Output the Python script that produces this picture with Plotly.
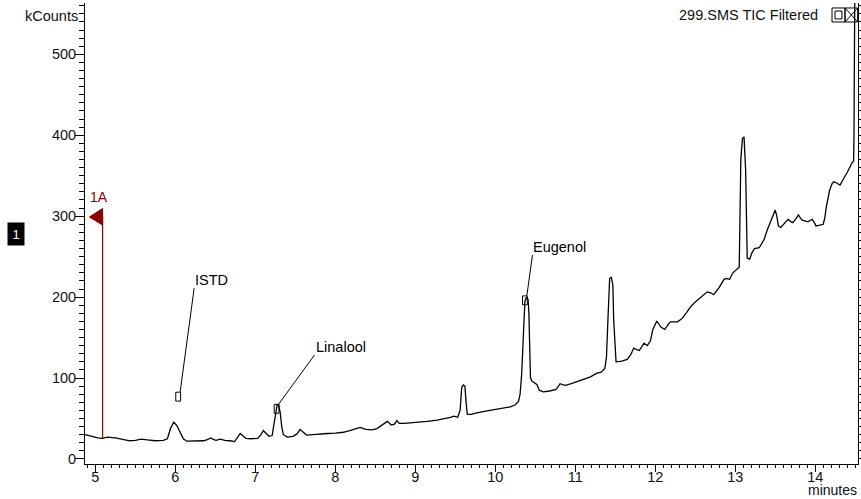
import numpy as np
import plotly.graph_objects as go

# ---------------- data ----------------
times = [4.87, 4.95, 5.03, 5.09, 5.15, 5.25, 5.35, 5.43, 5.50, 5.57, 5.65, 5.75, 5.85, 5.90,
         5.94, 5.98, 6.02, 6.06, 6.10, 6.14, 6.25, 6.35, 6.40, 6.44, 6.48, 6.51, 6.56, 6.62,
         6.68, 6.74, 6.78, 6.81, 6.84, 6.88, 6.95, 7.03, 7.07, 7.10, 7.13, 7.17, 7.21, 7.24,
         7.27, 7.29, 7.31, 7.33, 7.35, 7.40, 7.47, 7.52, 7.56, 7.60, 7.64, 7.72, 7.81, 7.90,
         8.00, 8.10, 8.18, 8.24, 8.31, 8.38, 8.46, 8.52, 8.58, 8.65, 8.70, 8.74, 8.77, 8.80,
         8.86, 8.95, 9.05, 9.15, 9.27, 9.38, 9.44, 9.48, 9.53, 9.56, 9.58, 9.60, 9.62, 9.635,
         9.65, 9.70, 9.77, 9.88, 9.98, 10.08, 10.19, 10.25, 10.29, 10.31, 10.33, 10.35, 10.37,
         10.39, 10.41, 10.42, 10.43, 10.44, 10.46, 10.49, 10.52, 10.55, 10.60, 10.68, 10.76,
         10.79, 10.81, 10.84, 10.88, 10.95, 11.02, 11.10, 11.19, 11.27, 11.32, 11.37, 11.39,
         11.41, 11.43, 11.45, 11.47, 11.48, 11.51, 11.58, 11.65, 11.70, 11.73, 11.77, 11.80,
         11.84, 11.86, 11.90, 11.94, 11.97, 12.02, 12.07, 12.12, 12.16, 12.19, 12.28, 12.34,
         12.40, 12.44, 12.50, 12.57, 12.65, 12.70, 12.73, 12.80, 12.86, 12.89, 12.93, 12.97,
         13.00, 13.05, 13.07, 13.09, 13.11, 13.13, 13.15, 13.18, 13.21, 13.24, 13.30, 13.36,
         13.40, 13.43, 13.47, 13.50, 13.52, 13.54, 13.57, 13.62, 13.66, 13.70, 13.72, 13.76,
         13.79, 13.82, 13.84, 13.88, 13.91, 13.94, 13.96, 13.99, 14.01, 14.06, 14.10, 14.12,
         14.14, 14.18, 14.21, 14.23, 14.27, 14.31, 14.34, 14.37, 14.40, 14.43, 14.46, 14.48,
         14.485, 14.49, 14.50, 14.53]
kcounts = [30, 28, 26, 25.5, 27, 26, 24, 22.5, 23, 24.5, 23.5, 22.5, 23, 25,
           38, 45.5, 41, 33, 25, 22, 22, 22.5, 24, 26, 24, 23, 24.5, 23,
           22.5, 21.5, 27, 31.5, 29, 25.5, 25, 25.5, 30, 35, 32, 28, 29, 45,
           66, 67, 58, 40, 30, 27, 28, 31, 36.5, 33, 29.5, 30, 31, 31.5,
           32, 33, 35, 37, 39, 36.5, 36, 37.5, 42, 46.5, 42, 43, 47.5, 44,
           44, 44.5, 45.5, 46.5, 48, 50, 51.5, 53, 51.5, 60, 88, 91.5, 90, 70,
           55, 55, 57, 59, 60.5, 62.5, 64.5, 67, 71, 80, 105, 150, 195,
           200, 197, 180, 130, 100, 96, 94, 92, 85, 83, 84, 86,
           90, 93, 92, 91, 93, 95.5, 98, 101.5, 106, 107, 112, 126,
           176, 223, 225, 215, 172, 120, 121, 123, 130, 137, 135, 134,
           140, 143, 140, 146, 160, 170.5, 163, 160, 166, 169.5, 169.5, 174,
           182, 188, 194, 200, 206.5, 205, 203, 212, 222, 223, 222, 230,
           233, 237, 370, 396, 398, 357, 248, 247, 255, 260, 261, 271,
           283, 291, 301.5, 307.5, 300, 288, 286, 291, 296, 293, 292, 297,
           301.5, 297, 295, 294, 293, 295, 296, 292, 288, 289, 290, 298,
           312, 332, 340, 342.5, 341, 338.5, 343, 349, 354, 361, 366, 368,
           400, 495, 650, 650]

peak_names = ["ISTD", "Linalool", "Eugenol"]
peak_times = [6.035, 7.265, 10.37]
peak_box_vals = [77, 62, 196]
label_times = [6.235, 7.74, 10.465]
label_vals = [211, 128.5, 252]

marker_label = "1A"
marker_time = 5.09
marker_top = 300

x_ticks = [5, 6, 7, 8, 9, 10, 11, 12, 13, 14]
y_ticks = [0, 100, 200, 300, 400, 500]
title_text = "299.SMS TIC Filtered"
y_unit = "kCounts"
x_unit = "minutes"
panel_id = "1"

# ---------------- figure ----------------
FONT = "Liberation Sans, Arial, sans-serif"
RED = "#8B0000"
fig = go.Figure()

fig.add_trace(go.Scatter(x=times, y=kcounts, mode="lines",
                         line=dict(color="black", width=1.3), hoverinfo="skip"))

# marker 1A
marker_base = float(np.interp(marker_time, times, kcounts))
fig.add_trace(go.Scatter(x=[marker_time, marker_time], y=[marker_base, marker_top],
                         mode="lines", line=dict(color=RED, width=1.2), hoverinfo="skip"))
fig.add_trace(go.Scatter(x=[marker_time, marker_time - 0.165, marker_time, marker_time],
                         y=[marker_top + 9.5, marker_top - 1, marker_top - 11, marker_top + 9.5],
                         mode="lines", fill="toself", fillcolor=RED,
                         line=dict(color=RED, width=1), hoverinfo="skip"))
fig.add_annotation(x=marker_time - 0.05, y=marker_top + 11, text=marker_label,
                   showarrow=False, xanchor="center", yanchor="bottom",
                   font=dict(family=FONT, size=14, color=RED))

# peak labels
bw, bh = 0.03, 5.5
for name, pt, pv, lt, lv in zip(peak_names, peak_times, peak_box_vals, label_times, label_vals):
    fig.add_shape(type="rect", x0=pt - bw, x1=pt + bw, y0=pv - bh, y1=pv + bh,
                  line=dict(color="black", width=1), fillcolor="rgba(0,0,0,0)")
    fig.add_trace(go.Scatter(x=[pt + bw * 0.8, lt], y=[pv + bh, lv], mode="lines",
                             line=dict(color="black", width=1), hoverinfo="skip"))
    fig.add_annotation(x=lt, y=lv, text=name, showarrow=False,
                       xanchor="left", yanchor="bottom", xshift=-1, yshift=-2,
                       font=dict(family=FONT, size=14.5, color="black"))

# texts around the frame
fig.add_annotation(xref="paper", yref="paper", x=-0.006, y=0.971, text=y_unit,
                   showarrow=False, xanchor="right", yanchor="middle",
                   font=dict(family=FONT, size=14.5, color="#111"))
fig.add_annotation(xref="paper", yref="paper", x=0.951, y=0.974, text=title_text,
                   showarrow=False, xanchor="right", yanchor="middle",
                   font=dict(family=FONT, size=14.5, color="#111"))
fig.add_annotation(xref="paper", yref="paper", x=1.0, y=-0.0755, text=x_unit,
                   showarrow=False, xanchor="right", yanchor="bottom", borderpad=0,
                   font=dict(family=FONT, size=14, color="#111"))
fig.add_annotation(xref="paper", yref="paper", x=-0.0893, y=0.499, text=panel_id,
                   showarrow=False, xanchor="center", yanchor="middle",
                   bgcolor="black", width=14, height=20, borderpad=1,
                   font=dict(family=FONT, size=13, color="white"))

# window icons (top right)
fig.add_shape(type="rect", xref="paper", yref="paper", x0=0.9664, x1=0.9832, y0=0.9588, y1=0.9892,
              line=dict(color="black", width=1))
fig.add_shape(type="rect", xref="paper", yref="paper", x0=0.9703, x1=0.9793, y0=0.9654, y1=0.9826,
              line=dict(color="black", width=1))
fig.add_shape(type="rect", xref="paper", yref="paper", x0=0.9832, x1=0.9995, y0=0.9588, y1=0.9892,
              line=dict(color="black", width=1))
fig.add_shape(type="line", xref="paper", yref="paper", x0=0.9832, x1=0.9995, y0=0.9588, y1=0.9892,
              line=dict(color="black", width=1))
fig.add_shape(type="line", xref="paper", yref="paper", x0=0.9832, x1=0.9995, y0=0.9892, y1=0.9588,
              line=dict(color="black", width=1))

fig.update_layout(
    width=861, height=499, autosize=False,
    margin=dict(l=85, r=3, t=3, b=35, pad=0),
    paper_bgcolor="white", plot_bgcolor="white",
    showlegend=False,
    font=dict(family=FONT, size=14.5, color="#111"),
)
fig.update_xaxes(range=[4.87, 14.535], tickvals=x_ticks, ticktext=[str(v) for v in x_ticks],
                 ticks="outside", ticklen=7, tickwidth=1, tickcolor="black",
                 minor=dict(dtick=0.1, tick0=0, ticks="outside", ticklen=3, tickcolor="black"),
                 showline=True, linecolor="black", linewidth=1,
                 showgrid=False, zeroline=False, automargin=False,
                 ticklabelstandoff=-7,
                 tickfont=dict(family=FONT, size=14.5, color="#111"))
fig.update_yaxes(range=[-6.2, 563.4], tickvals=y_ticks, ticktext=[str(v) for v in y_ticks],
                 ticks="outside", ticklen=9, tickwidth=1, tickcolor="black",
                 minor=dict(dtick=10, tick0=0, ticks="outside", ticklen=5, tickcolor="black"),
                 showline=True, linecolor="black", linewidth=1, mirror="ticks",
                 showgrid=False, zeroline=False, automargin=False,
                 ticklabelstandoff=-4,
                 tickfont=dict(family=FONT, size=14.5, color="#111"))

fig.write_html("out.html")
